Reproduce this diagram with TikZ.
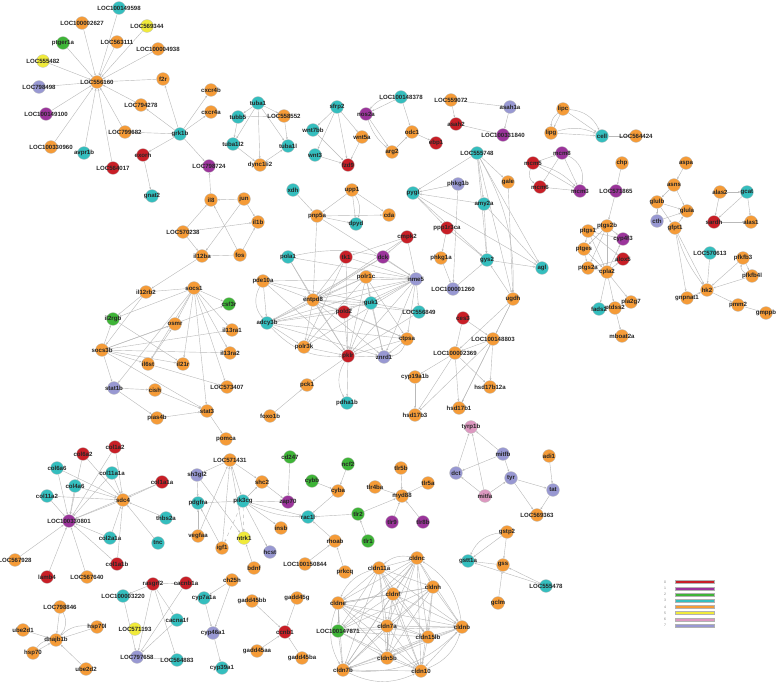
\documentclass[tikz,border=0pt]{standalone}
\usepackage{fontspec}
\setsansfont{Liberation Sans}
\usetikzlibrary{arrows.meta}
\definecolor{mred}{RGB}{200,30,38}
\definecolor{mpurple}{RGB}{155,52,155}
\definecolor{mgreen}{RGB}{62,180,55}
\definecolor{mteal}{RGB}{52,190,190}
\definecolor{morange}{RGB}{245,155,55}
\definecolor{myellow}{RGB}{240,234,58}
\definecolor{mpink}{RGB}{220,152,192}
\definecolor{mlav}{RGB}{152,152,210}
\pgfdeclarelayer{bg}
\pgfsetlayers{bg,main}
\begin{document}
\begin{tikzpicture}[
  x=0.03cm, y=-0.03cm,
  gene/.style={circle, draw=gray!45, line width=0.3pt, minimum size=11pt, inner sep=0pt, label={[lbl]center:#1}},
  lbl/.style={font=\sffamily\bfseries\fontsize{5.2}{6}\selectfont, text=black!85, inner sep=0pt},
  link/.style={draw=gray!55, line width=0.35pt, -{Stealth[length=2pt,width=1.6pt]}},
  m0/.style={fill=mred}, m1/.style={fill=mpurple}, m2/.style={fill=mgreen}, m3/.style={fill=mteal},
  m4/.style={fill=morange}, m5/.style={fill=myellow}, m6/.style={fill=mpink}, m7/.style={fill=mlav},
  keybar/.style={rectangle, draw=gray!60, line width=0.2pt, minimum width=1.17cm, minimum height=0.09cm, inner sep=0pt},
  keytxt/.style={font=\sffamily\fontsize{3}{3.5}\selectfont, text=gray, inner sep=0pt}
]
\useasboundingbox (0,0) rectangle (778,682);

% hub module
\node[gene=LOC100149598, m3] (LOC100149598) at (119,8) {};
\node[gene=LOC100002627, m4] (LOC100002627) at (82,23) {};
\node[gene=LOC569344, m5] (LOC569344) at (147,26) {};
\node[gene=ptger1a, m2] (ptger1a) at (63,43) {};
\node[gene=LOC563111, m4] (LOC563111) at (117,42) {};
\node[gene=LOC100004938, m4] (LOC100004938) at (158,49) {};
\node[gene=LOC555482, m5] (LOC555482) at (43,61) {};
\node[gene=LOC556160, m4] (LOC556160) at (97,82) {};
\node[gene=f2r, m4] (f2r) at (163,79) {};
\node[gene=cxcr4b, m4] (cxcr4b) at (211,90) {};
\node[gene=LOC798498, m7] (LOC798498) at (39,87) {};
\node[gene=LOC794278, m4] (LOC794278) at (141,105) {};
\node[gene=cxcr4a, m4] (cxcr4a) at (211,112) {};
\node[gene=LOC100149100, m1] (LOC100149100) at (46,114) {};
\node[gene=LOC799682, m4] (LOC799682) at (125,132) {};
\node[gene=grk1b, m3] (grk1b) at (180,134) {};
\node[gene=LOC100330960, m4] (LOC100330960) at (51,147) {};
\node[gene=avpr1b, m3] (avpr1b) at (84,153) {};
\node[gene=exorh, m0] (exorh) at (143,155) {};
\node[gene=LOC564017, m0] (LOC564017) at (113,168) {};
\node[gene=LOC798724, m1] (LOC798724) at (209,166) {};
\node[gene=gnat2, m3] (gnat2) at (152,196) {};
\node[gene=il8, m4] (il8) at (211,200) {};
\node[gene=jun, m4] (jun) at (244,199) {};
\node[gene=il1b, m4] (il1b) at (258,222) {};
\node[gene=LOC570238, m4] (LOC570238) at (183,232) {};
\node[gene=il12ba, m4] (il12ba) at (202,256) {};
\node[gene=fos, m4] (fos) at (240,255) {};

% tubulin, wnt, nos, asah, lip
\node[gene=tuba1, m3] (tuba1) at (258,103) {};
\node[gene=tubb5, m3] (tubb5) at (238,117) {};
\node[gene=LOC558552, m4] (LOC558552) at (284,116) {};
\node[gene=tuba1l2, m3] (tuba1l2) at (233,144) {};
\node[gene=tuba1l, m3] (tuba1l) at (288,146) {};
\node[gene=dync1li2, m4] (dync1li2) at (260,165) {};
\node[gene=sfrp2, m3] (sfrp2) at (337,107) {};
\node[gene=wnt7bb, m3] (wnt7bb) at (313,130) {};
\node[gene=wnt5a, m4] (wnt5a) at (362,137) {};
\node[gene=wnt3, m3] (wnt3) at (315,155) {};
\node[gene=fzd9, m0] (fzd9) at (348,165) {};
\node[gene=nos2a, m1] (nos2a) at (366,114) {};
\node[gene=LOC100148378, m3] (LOC100148378) at (401,97) {};
\node[gene=odc1, m4] (odc1) at (412,132) {};
\node[gene=arg2, m4] (arg2) at (392,152) {};
\node[gene=ebp1, m0] (ebp1) at (436,143) {};
\node[gene=LOC559072, m4] (LOC559072) at (451,100) {};
\node[gene=asah1a, m7] (asah1a) at (510,107) {};
\node[gene=asah2, m0] (asah2) at (456,124) {};
\node[gene=LOC100331840, m1] (LOC100331840) at (503,135) {};
\node[gene=lipc, m4] (lipc) at (563,109) {};
\node[gene=lipg, m4] (lipg) at (551,133) {};
\node[gene=cell, m3] (cell) at (602,136) {};
\node[gene=LOC564424, m4] (LOC564424) at (636,136) {};
\node[gene=mcm8, m1] (mcm8) at (562,153) {};
\node[gene=mcm5, m0] (mcm5) at (533,163) {};
\node[gene=mcm6, m0] (mcm6) at (540,187) {};
\node[gene=mcm3, m1] (mcm3) at (580,191) {};

% eicosanoid, amino acid, sugar
\node[gene=chp, m4] (chp) at (622,163) {};
\node[gene=LOC571865, m1] (LOC571865) at (616,191) {};
\node[gene=ptgs2b, m4] (ptgs2b) at (607,226) {};
\node[gene=ptgs1, m4] (ptgs1) at (588,231) {};
\node[gene=cyp4f3, m1] (cyp4f3) at (623,239) {};
\node[gene=ptges, m4] (ptges) at (584,249) {};
\node[gene=alox5, m0] (alox5) at (623,259) {};
\node[gene=ptgs2a, m4] (ptgs2a) at (588,268) {};
\node[gene=cpla2, m4] (cpla2) at (607,272) {};
\node[gene=fads2, m3] (fads2) at (599,309) {};
\node[gene=ptdss2, m4] (ptdss2) at (615,308) {};
\node[gene=pla2g7, m4] (pla2g7) at (631,302) {};
\node[gene=mboat2a, m4] (mboat2a) at (622,336) {};
\node[gene=aspa, m4] (aspa) at (686,163) {};
\node[gene=asns, m4] (asns) at (674,185) {};
\node[gene=glulb, m4] (glulb) at (657,202) {};
\node[gene=glula, m4] (glula) at (687,211) {};
\node[gene=cth, m7] (cth) at (657,221) {};
\node[gene=gfpt1, m4] (gfpt1) at (675,228) {};
\node[gene=LOC570613, m3] (LOC570613) at (710,253) {};
\node[gene=pfkfb3, m4] (pfkfb3) at (743,258) {};
\node[gene=pfkfb4l, m4] (pfkfb4l) at (752,276) {};
\node[gene=hk2, m4] (hk2) at (707,290) {};
\node[gene=gnpnat1, m4] (gnpnat1) at (687,298) {};
\node[gene=pmm2, m4] (pmm2) at (738,305) {};
\node[gene=gmppb, m4] (gmppb) at (766,313) {};
\node[gene=alas2, m4] (alas2) at (720,192) {};
\node[gene=gcat, m3] (gcat) at (747,192) {};
\node[gene=sardh, m0] (sardh) at (714,222) {};
\node[gene=alas1, m4] (alas1) at (751,222) {};

% glycogen and steroid
\node[gene=LOC555748, m3] (LOC555748) at (477,153) {};
\node[gene=pygl, m3] (pygl) at (413,193) {};
\node[gene=phkg1b, m7] (phkg1b) at (458,184) {};
\node[gene=gale, m4] (gale) at (508,182) {};
\node[gene=amy2a, m3] (amy2a) at (484,204) {};
\node[gene=ppp1r3ca, m0] (ppp1r3ca) at (447,228) {};
\node[gene=phkg1a, m4] (phkg1a) at (441,258) {};
\node[gene=gys2, m3] (gys2) at (487,260) {};
\node[gene=agl, m3] (agl) at (542,268) {};
\node[gene=LOC100001260, m7] (LOC100001260) at (453,289) {};
\node[gene=ugdh, m4] (ugdh) at (513,299) {};
\node[gene=ces3, m0] (ces3) at (463,318) {};
\node[gene=LOC100148803, m4] (LOC100148803) at (493,339) {};
\node[gene=LOC100002369, m4] (LOC100002369) at (455,353) {};
\node[gene=cyp19a1b, m4] (cyp19a1b) at (415,377) {};
\node[gene=hsd17b12a, m4] (hsd17b12a) at (490,387) {};
\node[gene=hsd17b1, m4] (hsd17b1) at (459,408) {};
\node[gene=hsd17b3, m4] (hsd17b3) at (415,415) {};

% nucleotide
\node[gene=xdh, m3] (xdh) at (293,190) {};
\node[gene=upp1, m4] (upp1) at (352,190) {};
\node[gene=pnp5a, m4] (pnp5a) at (317,216) {};
\node[gene=cda, m4] (cda) at (389,215) {};
\node[gene=dpyd, m3] (dpyd) at (356,224) {};
\node[gene=cmpk2, m0] (cmpk2) at (407,237) {};
\node[gene=pola1, m3] (pola1) at (288,257) {};
\node[gene=tk1, m0] (tk1) at (346,257) {};
\node[gene=dck, m1] (dck) at (383,257) {};
\node[gene=pde10a, m4] (pde10a) at (263,281) {};
\node[gene=polr1c, m4] (polr1c) at (366,277) {};
\node[gene=nme5, m7] (nme5) at (416,279) {};
\node[gene=entpd8, m4] (entpd8) at (313,300) {};
\node[gene=guk1, m3] (guk1) at (371,303) {};
\node[gene=LOC556849, m3] (LOC556849) at (419,312) {};
\node[gene=pold2, m0] (pold2) at (344,312) {};
\node[gene=adcy3b, m3] (adcy3b) at (267,323) {};
\node[gene=ctpsa, m4] (ctpsa) at (407,339) {};
\node[gene=polr3k, m4] (polr3k) at (304,347) {};
\node[gene=pklr, m0] (pklr) at (348,356) {};
\node[gene=znrd1, m7] (znrd1) at (384,357) {};
\node[gene=pck1, m4] (pck1) at (307,385) {};
\node[gene=pdha1b, m3] (pdha1b) at (347,403) {};
\node[gene=foxo1b, m4] (foxo1b) at (270,416) {};

% cytokine
\node[gene=il12rb2, m4] (il12rb2) at (146,292) {};
\node[gene=socs1, m4] (socs1) at (194,288) {};
\node[gene=csf3r, m2] (csf3r) at (229,304) {};
\node[gene=il2rgb, m2] (il2rgb) at (113,319) {};
\node[gene=osmr, m4] (osmr) at (175,324) {};
\node[gene=il13ra1, m4] (il13ra1) at (232,330) {};
\node[gene=socs3b, m4] (socs3b) at (102,350) {};
\node[gene=il13ra2, m4] (il13ra2) at (230,353) {};
\node[gene=il6st, m4] (il6st) at (148,364) {};
\node[gene=il21r, m4] (il21r) at (183,364) {};
\node[gene=stat1b, m7] (stat1b) at (114,388) {};
\node[gene=cish, m4] (cish) at (155,390) {};
\node[gene=LOC573407, m4] (LOC573407) at (227,387) {};
\node[gene=stat3, m4] (stat3) at (207,411) {};
\node[gene=pias4b, m4] (pias4b) at (157,418) {};
\node[gene=pomca, m4] (pomca) at (226,439) {};

% collagen
\node[gene=col1a2, m0] (col1a2) at (115,447) {};
\node[gene=col6a2, m0] (col6a2) at (83,454) {};
\node[gene=col6a6, m3] (col6a6) at (57,468) {};
\node[gene=col11a1a, m3] (col11a1a) at (112,473) {};
\node[gene=col1a1a, m0] (col1a1a) at (162,482) {};
\node[gene=col4a6, m3] (col4a6) at (75,486) {};
\node[gene=col11a2, m3] (col11a2) at (47,496) {};
\node[gene=sdc4, m4] (sdc4) at (123,500) {};
\node[gene=LOC100330801, m1] (LOC100330801) at (69,521) {};
\node[gene=thbs2a, m3] (thbs2a) at (166,518) {};
\node[gene=col2a1a, m3] (col2a1a) at (110,538) {};
\node[gene=tnc, m3] (tnc) at (158,543) {};
\node[gene=LOC567928, m4] (LOC567928) at (15,560) {};
\node[gene=col1a1b, m0] (col1a1b) at (117,564) {};
\node[gene=lamb4, m0] (lamb4) at (47,577) {};
\node[gene=LOC567640, m4] (LOC567640) at (87,577) {};

% signalling
\node[gene=LOC571431, m4] (LOC571431) at (230,460) {};
\node[gene=sh3gl2, m7] (sh3gl2) at (197,475) {};
\node[gene=shc2, m4] (shc2) at (262,482) {};
\node[gene=pdgfra, m3] (pdgfra) at (198,503) {};
\node[gene=pik3cg, m3] (pik3cg) at (243,501) {};
\node[gene=vegfaa, m4] (vegfaa) at (198,536) {};
\node[gene=ntrk1, m5] (ntrk1) at (244,538) {};
\node[gene=igf1, m4] (igf1) at (222,548) {};
\node[gene=bdnf, m4] (bdnf) at (254,568) {};
\node[gene=cd247, m2] (cd247) at (290,457) {};
\node[gene=ncf2, m2] (ncf2) at (348,464) {};
\node[gene=cybb, m2] (cybb) at (312,481) {};
\node[gene=cyba, m4] (cyba) at (338,491) {};
\node[gene=zap70, m1] (zap70) at (288,502) {};
\node[gene=rac1l, m3] (rac1l) at (308,517) {};
\node[gene=insb, m4] (insb) at (281,528) {};
\node[gene=hcst, m7] (hcst) at (270,552) {};
\node[gene=tlr2, m2] (tlr2) at (358,514) {};
\node[gene=tlr1, m2] (tlr1) at (368,541) {};
\node[gene=rhoab, m4] (rhoab) at (335,541) {};
\node[gene=LOC100150844, m4] (LOC100150844) at (305,564) {};
\node[gene=prkcq, m4] (prkcq) at (345,572) {};
\node[gene=tlr5b, m4] (tlr5b) at (401,468) {};
\node[gene=tlr4ba, m4] (tlr4ba) at (375,487) {};
\node[gene=tlr5a, m4] (tlr5a) at (428,483) {};
\node[gene=myd88, m4] (myd88) at (402,496) {};
\node[gene=tlr9, m1] (tlr9) at (392,522) {};
\node[gene=tlr8b, m1] (tlr8b) at (423,522) {};

% pigment, gst
\node[gene=tyrp1b, m6] (tyrp1b) at (471,427) {};
\node[gene=mitfb, m7] (mitfb) at (503,454) {};
\node[gene=dct, m7] (dct) at (456,473) {};
\node[gene=tyr, m7] (tyr) at (511,478) {};
\node[gene=mitfa, m6] (mitfa) at (485,496) {};
\node[gene=adi1, m4] (adi1) at (549,456) {};
\node[gene=tat, m7] (tat) at (553,490) {};
\node[gene=LOC569363, m4] (LOC569363) at (537,515) {};
\node[gene=gstp2, m4] (gstp2) at (507,532) {};
\node[gene=gstt1a, m3] (gstt1a) at (468,561) {};
\node[gene=gss, m4] (gss) at (503,565) {};
\node[gene=gclm, m4] (gclm) at (498,603) {};
\node[gene=LOC555478, m3] (LOC555478) at (546,586) {};

% calcium, sterol, chaperone, gadd
\node[gene=rasgrf2, m0] (rasgrf2) at (153,584) {};
\node[gene=cacnb1a, m0] (cacnb1a) at (186,583) {};
\node[gene=LOC100003220, m3] (LOC100003220) at (123,596) {};
\node[gene=cacna1f, m3] (cacna1f) at (177,620) {};
\node[gene=LOC571193, m5] (LOC571193) at (135,629) {};
\node[gene=LOC797658, m7] (LOC797658) at (137,657) {};
\node[gene=LOC564883, m3] (LOC564883) at (177,660) {};
\node[gene=ch25h, m4] (ch25h) at (232,580) {};
\node[gene=cyp7a1a, m3] (cyp7a1a) at (204,598) {};
\node[gene=cyp46a1, m7] (cyp46a1) at (213,633) {};
\node[gene=cyp39a1, m3] (cyp39a1) at (222,668) {};
\node[gene=LOC798846, m4] (LOC798846) at (60,607) {};
\node[gene=hsp70l, m4] (hsp70l) at (97,627) {};
\node[gene=ube2d1, m4] (ube2d1) at (23,630) {};
\node[gene=dnajb1b, m4] (dnajb1b) at (56,640) {};
\node[gene=hsp70, m4] (hsp70) at (33,653) {};
\node[gene=ube2d2, m4] (ube2d2) at (86,669) {};
\node[gene=gadd45bb, m4] (gadd45bb) at (252,601) {};
\node[gene=gadd45g, m4] (gadd45g) at (297,598) {};
\node[gene=ccnb1, m0] (ccnb1) at (285,632) {};
\node[gene=gadd45aa, m4] (gadd45aa) at (257,651) {};
\node[gene=gadd45ba, m4] (gadd45ba) at (302,658) {};

% claudins
\node[gene=cldn11a, m4] (cldn11a) at (379,568) {};
\node[gene=cldnc, m4] (cldnc) at (417,558) {};
\node[gene=cldnh, m4] (cldnh) at (433,587) {};
\node[gene=cldnf, m4] (cldnf) at (393,594) {};
\node[gene=cldne, m4] (cldne) at (338,603) {};
\node[gene=cldn7a, m4] (cldn7a) at (387,626) {};
\node[gene=cldnb, m4] (cldnb) at (462,627) {};
\node[gene=LOC100147871, m2] (LOC100147871) at (338,631) {};
\node[gene=cldn15lb, m4] (cldn15lb) at (428,637) {};
\node[gene=cldn5b, m4] (cldn5b) at (387,658) {};
\node[gene=cldn7b, m4] (cldn7b) at (343,670) {};
\node[gene=cldn10, m4] (cldn10) at (421,671) {};

% legend
\foreach \k/\c in {0/mred,1/mpurple,2/mgreen,3/mteal,4/morange,5/myellow,6/mpink,7/mlav} {
  \node[keytxt] (key\k) at (665,582+6.2*\k) {\k};
  \node[keybar, fill=\c] (bar\k) at (694.5,582+6.2*\k) {};
}

\begin{pgfonlayer}{bg}
% hub
\foreach \a/\b in {LOC100149598/LOC556160, LOC100002627/LOC556160, LOC569344/LOC556160, ptger1a/LOC556160,
  LOC563111/LOC556160, LOC100004938/LOC556160, LOC555482/LOC556160, LOC798498/LOC556160, LOC100149100/LOC556160,
  LOC100330960/LOC556160, avpr1b/LOC556160, LOC564017/LOC556160, LOC799682/LOC556160, LOC794278/LOC556160,
  f2r/LOC556160, grk1b/f2r, grk1b/LOC794278, grk1b/cxcr4b, grk1b/cxcr4a, grk1b/LOC799682, grk1b/exorh,
  grk1b/LOC798724, exorh/gnat2, il8/LOC798724, jun/il8, jun/il1b, jun/il12ba, fos/il8, fos/il1b, fos/il12ba,
  LOC570238/il8, LOC570238/il1b, LOC570238/il12ba, il12ba/il12rb2}
  \draw[link] (\a) -- (\b);
% tubulin, wnt, nos, asah, lip, mcm
\foreach \a/\b in {tuba1/tubb5, tuba1/LOC558552, tuba1/tuba1l2, tuba1/dync1li2, tuba1/tuba1l, tubb5/tuba1l2,
  tubb5/LOC558552, tuba1l2/dync1li2, dync1li2/tuba1l, LOC558552/tuba1l,
  sfrp2/wnt7bb, sfrp2/wnt5a, sfrp2/wnt3, sfrp2/fzd9, wnt7bb/fzd9, wnt3/fzd9, wnt5a/fzd9,
  LOC100148378/nos2a, LOC100148378/odc1, nos2a/arg2, arg2/odc1, odc1/ebp1,
  LOC559072/asah1a, LOC559072/asah2, asah2/LOC100331840, asah1a/LOC100331840,
  lipc/lipg, lipc/cell, lipg/cell, cell/LOC564424,
  mcm5/mcm8, mcm5/mcm3, mcm8/mcm6, mcm6/mcm3, mcm8/mcm3}
  \draw[link] (\a) -- (\b);
\draw[link] (LOC100148378) to[bend right=25] (nos2a);
\draw[link] (nos2a) to[bend right=15] (arg2);
\draw[link] (lipc) to[bend left=30] (cell);
\draw[link] (lipg) to[bend left=20] (cell);
\draw[link] (lipc) to[bend right=25] (lipg);
\draw[link] (mcm5) to[bend right=40] (mcm6);
\draw[link] (mcm8) to[bend left=40] (mcm3);
\draw[link] (mcm5) to[bend left=15] (mcm3);
% eicosanoid, amino acid, sugar
\foreach \a/\b in {chp/LOC571865, LOC571865/ptgs2b, ptgs2b/ptgs1, ptgs2b/cyp4f3, ptgs2b/cpla2, ptgs2b/ptges,
  ptgs2b/ptgs2a, ptgs1/ptges, ptgs1/cpla2, ptgs1/alox5, ptgs1/cyp4f3, ptges/ptgs2a, ptges/cpla2, ptgs2a/cpla2,
  cpla2/alox5, cpla2/cyp4f3, ptgs2a/alox5, cpla2/fads2, cpla2/ptdss2, cpla2/pla2g7, ptdss2/mboat2a,
  aspa/asns, asns/glulb, asns/glula, glulb/glula, glulb/cth, glulb/gfpt1, cth/glula, gfpt1/glula, gfpt1/hk2,
  gfpt1/gnpnat1, LOC570613/hk2, pfkfb3/hk2, pfkfb4l/hk2, pfkfb3/pfkfb4l, hk2/pmm2, pmm2/gmppb, gnpnat1/hk2,
  alas2/gcat, alas2/sardh, gcat/sardh, gcat/alas1, sardh/alas1}
  \draw[link] (\a) -- (\b);
\draw[link] (gfpt1) to[bend right=10] (hk2);
\draw[link] (pfkfb4l) to[bend left=40] (pfkfb3);
% glycogen, steroid
\foreach \a/\b in {LOC555748/pygl, LOC555748/gale, LOC555748/amy2a, LOC555748/gys2, LOC555748/agl,
  LOC555748/ugdh, phkg1b/pygl, phkg1b/LOC100001260, amy2a/pygl, pygl/gys2, pygl/agl, pygl/ppp1r3ca,
  ppp1r3ca/gys2, ppp1r3ca/phkg1a, phkg1a/LOC100001260, LOC100001260/gys2, amy2a/agl, gys2/agl, gale/ugdh,
  amy2a/gys2, ugdh/gys2, ces3/LOC100002369, ces3/LOC100148803, LOC100148803/LOC100002369,
  LOC100148803/hsd17b12a, LOC100148803/hsd17b3, LOC100148803/hsd17b1, LOC100002369/cyp19a1b,
  LOC100002369/hsd17b3, LOC100002369/hsd17b1, LOC100002369/hsd17b12a, cyp19a1b/hsd17b3,
  ugdh/LOC100002369, ugdh/LOC100148803, ugdh/hsd17b1}
  \draw[link] (\a) -- (\b);
\draw[link] (LOC555748) to[bend left=15] (ugdh);
% nucleotide
\foreach \a/\b in {xdh/pnp5a, upp1/pnp5a, pnp5a/cda, pnp5a/dpyd, upp1/dpyd, upp1/cda, pnp5a/entpd8,
  pnp5a/nme5, cmpk2/dck, cmpk2/nme5, cmpk2/tk1, cmpk2/entpd8, pola1/entpd8, pola1/pklr, pola1/nme5,
  tk1/entpd8, tk1/nme5, tk1/pklr, tk1/polr3k, dck/entpd8, dck/nme5, dck/adcy3b, pde10a/adcy3b,
  pde10a/entpd8, pde10a/nme5, pde10a/pklr, pde10a/guk1, polr1c/entpd8, polr1c/nme5, polr1c/guk1,
  polr1c/ctpsa, polr1c/pklr, polr1c/adcy3b, polr1c/znrd1, polr1c/polr3k, nme5/entpd8, nme5/guk1,
  nme5/LOC556849, nme5/ctpsa, nme5/znrd1, nme5/pklr, nme5/polr3k, nme5/adcy3b, nme5/pold2,
  entpd8/guk1, entpd8/pold2, entpd8/pklr, entpd8/polr3k, entpd8/adcy3b, entpd8/ctpsa, entpd8/znrd1,
  entpd8/LOC556849, guk1/LOC556849, guk1/znrd1, guk1/adcy3b, guk1/pklr, pold2/pklr, pold2/adcy3b,
  pold2/ctpsa, adcy3b/polr3k, adcy3b/ctpsa, adcy3b/znrd1, ctpsa/znrd1, ctpsa/pklr, LOC556849/pklr,
  polr3k/pklr, pklr/znrd1, pklr/pdha1b, pklr/pck1, foxo1b/pck1}
  \draw[link] (\a) -- (\b);
\draw[link] (pola1) to[bend left=12] (dck);
\draw[link] (upp1) to[bend left=25] (dpyd);
\draw[link] (pde10a) to[bend right=35] (adcy3b);
\draw[link] (adcy3b) to[bend right=25] (pklr);
\draw[link] (pklr) to[bend right=30] (pdha1b);
\draw[link] (ctpsa) to[bend left=30] (znrd1);
% cytokine
\foreach \a/\b in {il12rb2/socs1, il12rb2/il2rgb, il12rb2/socs3b, socs1/csf3r, socs1/il2rgb, socs1/osmr,
  socs1/il13ra1, socs1/il13ra2, socs1/il6st, socs1/il21r, socs1/LOC573407, socs1/stat3, socs1/stat1b,
  socs3b/il2rgb, socs3b/osmr, socs3b/csf3r, socs3b/il13ra1, socs3b/il13ra2, socs3b/il6st, socs3b/il21r,
  socs3b/stat1b, socs3b/stat3, il2rgb/il21r, il6st/osmr, stat1b/cish, stat1b/pias4b, cish/stat3,
  pias4b/stat3, stat3/pomca, il6st/LOC573407}
  \draw[link] (\a) -- (\b);
% collagen
\foreach \a/\b in {col1a2/sdc4, col1a2/LOC100330801, col6a2/sdc4, col6a2/LOC100330801, col6a6/sdc4,
  col6a6/LOC100330801, col11a1a/sdc4, col11a1a/LOC100330801, col1a1a/sdc4, col1a1a/LOC100330801,
  col4a6/sdc4, col4a6/LOC100330801, col11a2/sdc4, col11a2/LOC100330801, thbs2a/sdc4, tnc/sdc4,
  col2a1a/sdc4, col2a1a/LOC100330801, col1a1b/sdc4, col1a1b/LOC100330801, LOC567928/LOC100330801,
  lamb4/LOC100330801, LOC567640/LOC100330801, sdc4/LOC100330801}
  \draw[link] (\a) -- (\b);
% signalling
\foreach \a/\b in {LOC571431/sh3gl2, LOC571431/shc2, LOC571431/pik3cg, igf1/LOC571431, vegfaa/LOC571431,
  ntrk1/LOC571431, sh3gl2/pdgfra, sh3gl2/ntrk1, pdgfra/pik3cg, vegfaa/pdgfra, igf1/pdgfra, bdnf/ntrk1,
  pik3cg/shc2, pik3cg/rac1l, pik3cg/insb, pik3cg/hcst, shc2/zap70, cd247/zap70, pik3cg/zap70,
  cyba/rac1l, cybb/cyba, ncf2/cyba, tlr2/rac1l, rhoab/rac1l, LOC100150844/rhoab, prkcq/rhoab,
  tlr1/tlr2, tlr2/myd88, tlr5b/myd88, tlr4ba/myd88, tlr5a/myd88, tlr9/myd88, tlr8b/myd88}
  \draw[link] (\a) -- (\b);
\draw[link, dashed] (pik3cg) -- (igf1);
\draw[link, dashed] (pik3cg) -- (ntrk1);
\draw[link] (pik3cg) to[bend right=12] (rac1l);
% pigment, gst
\foreach \a/\b in {mitfb/tyrp1b, mitfb/dct, mitfb/tyr, mitfa/tyrp1b, mitfa/dct, mitfa/tyr, dct/tyrp1b,
  tyr/tat, tyr/LOC569363, adi1/tat, tat/LOC569363, gss/gstt1a, gstp2/gss, gclm/gss,
  LOC555478/gstt1a, LOC555478/gss, gstp2/gstt1a}
  \draw[link] (\a) -- (\b);
\draw[link] (gstp2) to[bend right=30] (gstt1a);
% calcium, sterol, chaperone, gadd
\foreach \a/\b in {cacnb1a/rasgrf2, rasgrf2/LOC100003220, rasgrf2/cacna1f, rasgrf2/LOC564883,
  rasgrf2/LOC797658, cacnb1a/LOC797658, LOC100003220/LOC797658, cacna1f/LOC797658, LOC797658/LOC564883,
  ch25h/cyp7a1a, ch25h/cyp46a1, cyp7a1a/cyp46a1, cyp46a1/cyp39a1, LOC798846/dnajb1b, hsp70l/dnajb1b,
  ube2d1/dnajb1b, hsp70/dnajb1b, ube2d2/dnajb1b, gadd45bb/ccnb1, gadd45g/ccnb1, gadd45aa/ccnb1,
  gadd45ba/ccnb1}
  \draw[link] (\a) -- (\b);
\draw[link] (LOC798846) to[bend left=35] (dnajb1b);
\draw[link] (hsp70l) to[bend right=25] (dnajb1b);
\draw[link] (hsp70) to[bend left=25] (dnajb1b);
% claudins, all pairs
\foreach \a [count=\i] in {cldn11a,cldnc,cldnh,cldnf,cldne,cldn7a,cldnb,LOC100147871,cldn15lb,cldn5b,cldn7b,cldn10} {
  \foreach \b [count=\j] in {cldn11a,cldnc,cldnh,cldnf,cldne,cldn7a,cldnb,LOC100147871,cldn15lb,cldn5b,cldn7b,cldn10} {
    \ifnum\i<\j \draw[link] (\a) -- (\b); \fi
  }
}
\foreach \a/\b in {cldne/cldn7b, cldn7b/cldn10, cldn10/cldnb, cldnb/cldnc, cldnc/cldn11a, cldn11a/cldne,
  cldne/cldnc, cldn7b/cldnb}
  \draw[link] (\a) to[bend right=25] (\b);
\end{pgfonlayer}
\end{tikzpicture}
\end{document}
